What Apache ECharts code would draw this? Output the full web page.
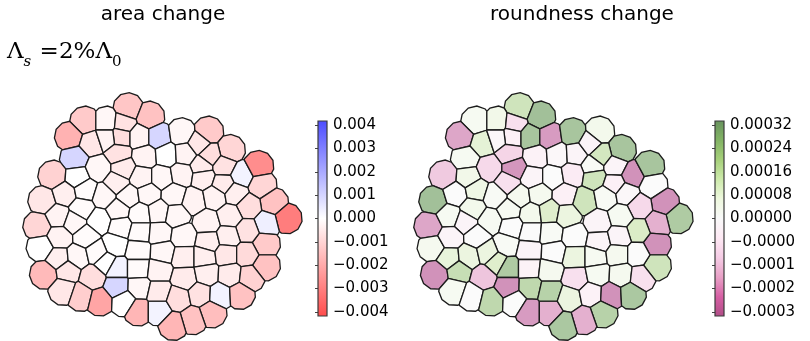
<!DOCTYPE html>
<html>
<head>
<meta charset="utf-8">
<script src="https://cdn.jsdelivr.net/npm/echarts@6/dist/echarts.min.js"></script>
<style>
  html, body { margin: 0; padding: 0; background: #fff; }
  #main { width: 810px; height: 341px; }
</style>
</head>
<body>
<div id="main"></div>
<script>
// cell centres (units: 3x view of the left panel)
const cellX = [385, 448, 255, 320, 370, 362, 418, 475, 545, 625, 690, 210, 275, 320, 355, 225, 435, 500, 555, 597,
  630, 605, 672, 725, 775, 785, 820, 860, 800, 795, 795, 160, 232, 295, 370, 425, 485, 545, 610, 670,
  350, 130, 195, 255, 312, 385, 445, 522, 580, 645, 705, 745, 115, 175, 245, 222, 298, 355, 362, 420,
  475, 528, 622, 690, 742, 125, 178, 258, 345, 420, 478, 550, 625, 685, 175, 232, 290, 318, 415, 488,
  552, 612, 680, 740, 135, 203, 278, 350, 350, 415, 418, 475, 555, 620, 690, 750, 190, 243, 300, 372,
  415, 475, 475, 535, 600, 660, 720, 635, 578, 520];
const cellY = [55, 80, 95, 95, 100, 140, 140, 140, 130, 125, 180, 140, 160, 145, 190, 205, 200, 195, 192, 160,
  195, 228, 228, 255, 228, 285, 338, 385, 400, 462, 527, 257, 262, 235, 235, 262, 262, 252, 262, 282,
  278, 332, 312, 300, 318, 320, 312, 315, 332, 320, 310, 350, 408, 378, 355, 395, 392, 360, 410, 372,
  365, 375, 398, 378, 422, 472, 442, 440, 465, 425, 430, 440, 455, 440, 505, 500, 487, 517, 482, 485,
  500, 500, 492, 492, 552, 542, 562, 535, 590, 535, 592, 542, 565, 552, 555, 562, 600, 618, 632, 635,
  662, 662, 605, 625, 612, 615, 612, 668, 688, 705];

// area change per cell
const areaChange = [-0.0014, -0.0015, -0.0013, -0.0002, -0.0007, -0.0008, -0.0003, 0.0010, -0.0002, -0.0013,
  -0.0010, -0.0019, -0.0006, -0.0003, -0.0007, 0.0010, -0.0003, 0.0000, -0.0003, -0.0006,
  -0.0008, -0.0005, -0.0007, 0.0003, -0.0028, -0.0010, -0.0015, -0.0032, 0.0004, -0.0013,
  -0.0015, -0.0011, 0.0000, -0.0002, -0.0005, -0.0003, -0.0002, -0.0003, -0.0004, -0.0005,
  -0.0004, -0.0006, -0.0004, -0.0001, -0.0002, -0.0002, -0.0002, -0.0002, -0.0003, -0.0003,
  -0.0004, -0.0008, -0.0010, -0.0003, -0.0001, -0.0002, 0.0000, -0.0002, -0.0001, -0.0001,
  -0.0002, -0.0002, -0.0003, -0.0004, -0.0007, 0.0000, -0.0003, -0.0001, 0.0000, -0.0001,
  -0.0002, -0.0002, -0.0004, -0.0004, -0.0004, -0.0002, -0.0001, 0.0000, -0.0001, -0.0002,
  -0.0004, -0.0004, -0.0006, -0.0009, -0.0017, -0.0006, -0.0008, 0.0003, 0.0010, -0.0001,
  -0.0002, -0.0003, -0.0005, -0.0004, -0.0005, -0.0011, -0.0006, -0.0012, -0.0022, 0.0000,
  -0.0018, 0.0003, -0.0005, -0.0008, -0.0007, 0.0003, -0.0015, -0.0016, -0.0015, -0.0018];

// roundness change per cell
const roundChange = [0.00016, 0.00028, 0.00003, 0.00006, -0.00010, -0.00005, 0.00026, -0.00024, 0.00026, 0.00005,
  0.00026, -0.00022, 0.00010, -0.00002, -0.00013, 0.00003, -0.00004, -0.00002, -0.00003, -0.00003,
  0.00015, 0.00002, -0.00003, -0.00026, 0.00026, 0.00000, -0.00026, 0.00024, -0.00020, -0.00026,
  0.00016, -0.00015, 0.00006, -0.00012, -0.00025, -0.00003, 0.00000, -0.00007, 0.00016, -0.00005,
  -0.00010, 0.00028, 0.00000, 0.00007, 0.00002, 0.00004, 0.00004, -0.00005, 0.00016, 0.00002,
  -0.00002, -0.00012, -0.00022, 0.00003, 0.00005, -0.00003, 0.00003, 0.00003, 0.00000, 0.00005,
  0.00012, 0.00008, -0.00003, 0.00003, 0.00013, 0.00004, -0.00003, 0.00000, 0.00002, 0.00000,
  0.00002, 0.00000, -0.00003, -0.00003, 0.00009, 0.00008, 0.00008, 0.00012, -0.00003, 0.00000,
  0.00008, 0.00003, 0.00004, 0.00000, -0.00026, 0.00018, -0.00016, 0.00024, -0.00026, -0.00004,
  0.00020, 0.00004, -0.00010, 0.00003, 0.00004, -0.00010, 0.00003, 0.00000, 0.00020, 0.00000,
  -0.00024, -0.00020, 0.00022, 0.00008, -0.00004, -0.00026, 0.00025, 0.00022, -0.00020, 0.00025];

// colourbar ticks
const areaTicks = [0.004, 0.003, 0.002, 0.001, 0, -0.001, -0.002, -0.003, -0.004];
const areaTickLabels = ['0.004', '0.003', '0.002', '0.001', '0.000', '\u22120.001', '\u22120.002', '\u22120.003', '\u22120.004'];
const roundTicks = [0.00032, 0.00024, 0.00016, 0.00008, 0, -0.00008, -0.00016, -0.00024, -0.00032];
const roundTickLabels = ['0.00032', '0.00024', '0.00016', '0.00008', '0.00000', '\u22120.0000', '\u22120.0001', '\u22120.0002', '\u22120.0003'];

const areaColors = ['#ff5c5c', '#ffffff', '#5c5cff'];
const roundColors = ['#c27ca6', '#d293bb', '#e6b4d2', '#f5d6e8', '#fcedf5', '#fbfbfb', '#f1f8e8', '#dcedc8', '#c2dbb0', '#a9c69f', '#97b58f'];
const areaBar = ['#ff4c4c', '#ffffff', '#4c4cff'];
const roundBar = ['#b04d86', '#d65fa4', '#e8a0c6', '#f5cce5', '#fee9f4', '#f9f9f9', '#eef8de', '#cdeaab', '#a6d07a', '#82b364', '#68935e'];

// voronoi cells, each clipped to a polygon around its centre
function clip(poly, a, b, c) {
  const out = [];
  for (let k = 0; k < poly.length; k++) {
    const p = poly[k], q = poly[(k + 1) % poly.length];
    const fp = a * p[0] + b * p[1] - c, fq = a * q[0] + b * q[1] - c;
    if (fp <= 0) out.push(p);
    if ((fp < 0 && fq > 0) || (fp > 0 && fq < 0)) {
      const t = fp / (fp - fq);
      out.push([p[0] + t * (q[0] - p[0]), p[1] + t * (q[1] - p[1])]);
    }
  }
  return out;
}

function cellPolygons(R, sides) {
  return cellX.map((x, i) => {
    const y = cellY[i];
    let poly = [];
    for (let k = 0; k < sides; k++) {
      const a = 2 * Math.PI * k / sides + 0.2;
      poly.push([x + R * Math.cos(a), y + R * Math.sin(a)]);
    }
    cellX.forEach((x2, j) => {
      if (j === i) return;
      const dx = x2 - x, dy = cellY[j] - y;
      if (dx * dx + dy * dy > 4 * R * R) return;
      poly = clip(poly, dx, dy, (dx * (x + x2) + dy * (y + cellY[j])) / 2);
    });
    return poly;
  });
}
const polys = cellPolygons(47, 11);

function cellSeries(idx, values) {
  return {
    type: 'custom',
    xAxisIndex: idx,
    yAxisIndex: idx,
    data: cellX.map((x, i) => [x, cellY[i], values[i]]),
    encode: { x: 0, y: 1 },
    renderItem: function (params, api) {
      const pts = polys[params.dataIndex].map(p => api.coord(p));
      return {
        type: 'polygon',
        shape: { points: pts },
        style: { fill: api.visual('color'), stroke: '#1c1c1c', lineWidth: 1.3 }
      };
    }
  };
}

function stops(colors) {
  // top of the bar is the high end
  return colors.slice().reverse().map((c, k) => ({ offset: k / (colors.length - 1), color: c }));
}

function barSeries(idx, lo, hi, colors) {
  return {
    type: 'custom',
    xAxisIndex: idx,
    yAxisIndex: idx,
    data: [[0]],
    renderItem: function (params, api) {
      const tl = api.coord([0, hi]);
      const br = api.coord([1, lo]);
      return {
        type: 'rect',
        shape: { x: tl[0], y: tl[1], width: br[0] - tl[0], height: br[1] - tl[1] },
        style: {
          fill: new echarts.graphic.LinearGradient(0, 0, 0, 1, stops(colors)),
          stroke: '#3a3a3a', lineWidth: 1.2
        }
      };
    }
  };
}

function labelOf(ticks, labels) {
  return v => {
    const k = ticks.findIndex(t => Math.abs(t - v) < 1e-9);
    return k < 0 ? '' : labels[k];
  };
}

const cellXAxis = { type: 'value', min: 0, max: 930, show: false };
const cellYAxis = { type: 'value', min: 0, max: 753, inverse: true, show: false };
const barX = { type: 'value', min: 0, max: 1, show: false };
function barY(ticks, labels, ext) {
  return {
    type: 'value', position: 'right', min: -ext, max: ext,
    axisLine: { show: false },
    splitLine: { show: false },
    axisTick: { show: true, inside: true, length: 3, customValues: ticks, lineStyle: { color: '#444' } },
    axisLabel: {
      customValues: ticks, formatter: labelOf(ticks, labels), margin: 6,
      fontFamily: 'DejaVu Sans', fontSize: 15, color: '#000'
    }
  };
}

const chart = echarts.init(document.getElementById('main'));
chart.setOption({
  animation: false,
  grid: [
    { left: 0, top: 90, width: 310, height: 251 },
    { left: 391, top: 90, width: 310, height: 251 },
    { left: 318, top: 121, width: 9, height: 195 },
    { left: 715, top: 121, width: 9, height: 195 }
  ],
  xAxis: [
    Object.assign({ gridIndex: 0 }, cellXAxis),
    Object.assign({ gridIndex: 1 }, cellXAxis),
    Object.assign({ gridIndex: 2 }, barX),
    Object.assign({ gridIndex: 3 }, barX)
  ],
  yAxis: [
    Object.assign({ gridIndex: 0 }, cellYAxis),
    Object.assign({ gridIndex: 1 }, cellYAxis),
    Object.assign({ gridIndex: 2 }, barY(areaTicks, areaTickLabels, 0.00418)),
    Object.assign({ gridIndex: 3 }, barY(roundTicks, roundTickLabels, 0.000334))
  ],
  visualMap: [
    { type: 'continuous', show: false, seriesIndex: 0, dimension: 2, min: -0.004, max: 0.004, inRange: { color: areaColors } },
    { type: 'continuous', show: false, seriesIndex: 1, dimension: 2, min: -0.00032, max: 0.00032, inRange: { color: roundColors } }
  ],
  series: [
    cellSeries(0, areaChange),
    cellSeries(1, roundChange),
    barSeries(2, -0.00418, 0.00418, areaBar),
    barSeries(3, -0.000334, 0.000334, roundBar)
  ],
  graphic: [
    { type: 'text', x: 163, y: 15, style: { text: 'area change', font: '20px "DejaVu Sans"', fill: '#000', align: 'center', verticalAlign: 'middle' } },
    { type: 'text', x: 582, y: 15, style: { text: 'roundness change', font: '20px "DejaVu Sans"', fill: '#000', align: 'center', verticalAlign: 'middle' } },
    {
      type: 'text', x: 7, y: 41,
      style: {
        text: '{m|\u039B}{s|s}{m| =2%\u039B}{z|0}',
        fill: '#000',
        rich: {
          m: { fontFamily: 'DejaVu Serif', fontSize: 23, lineHeight: 27, verticalAlign: 'top' },
          s: { fontFamily: 'DejaVu Serif', fontSize: 15, fontStyle: 'italic', lineHeight: 15, padding: [14, 1, 0, 0], verticalAlign: 'top' },
          z: { fontFamily: 'DejaVu Serif', fontSize: 15, lineHeight: 15, padding: [14, 0, 0, 0], verticalAlign: 'top' }
        }
      }
    }
  ]
});
</script>
</body>
</html>
